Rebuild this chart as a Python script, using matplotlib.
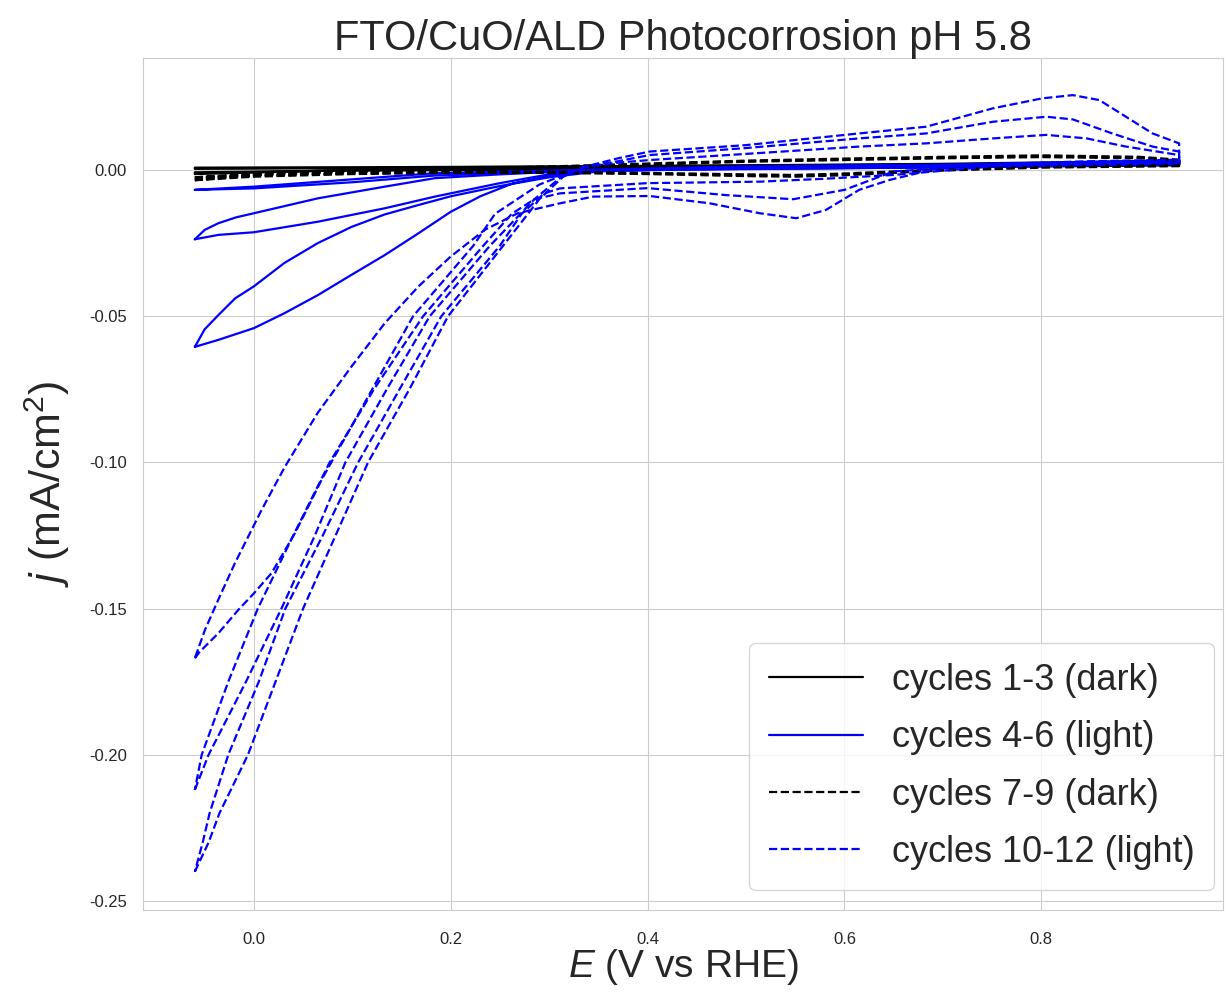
import matplotlib
matplotlib.use('Agg')
import matplotlib.pyplot as plt
import seaborn as sns

# --- cycles 1-3, dark (solid black) ---
cyc1_E = [-0.06, 0.1, 0.3, 0.5, 0.7, 0.94, 0.94, 0.7, 0.5, 0.3, 0.1, -0.06]
cyc1_j = [0.0004, 0.0006, 0.0009, 0.0013, 0.0017, 0.0026, 0.0016, 0.0009, 0.0004, 0.0001, -0.0002, -0.0008]
cyc2_E = [-0.06, 0.1, 0.3, 0.5, 0.7, 0.94, 0.94, 0.7, 0.5, 0.3, 0.1, -0.06]
cyc2_j = [0.0006, 0.0008, 0.0011, 0.0015, 0.0019, 0.0029, 0.0018, 0.0011, 0.0006, 0.0002, -0.0001, -0.0011]
cyc3_E = [-0.06, 0.1, 0.3, 0.5, 0.7, 0.94, 0.94, 0.7, 0.5, 0.3, 0.1, -0.06]
cyc3_j = [0.0008, 0.0009, 0.0012, 0.0016, 0.0021, 0.0032, 0.0020, 0.0012, 0.0007, 0.0003, 0.0000, -0.0014]

# --- cycles 4-6, light (solid blue) ---
cyc4_E = [-0.06, -0.05, -0.036, -0.019, 0.0, 0.031, 0.065, 0.099, 0.133, 0.167, 0.2, 0.25, 0.3, 0.35,
          0.5, 0.7, 0.94, 0.94, 0.7, 0.5, 0.35, 0.3, 0.263, 0.23, 0.2, 0.167, 0.133, 0.099, 0.065,
          0.031, 0.0, -0.036, -0.05, -0.06]
cyc4_j = [-0.0605, -0.0545, -0.0496, -0.0439, -0.0398, -0.0318, -0.0250, -0.0195, -0.0152, -0.0120,
          -0.0090, -0.0055, -0.0025, -0.0005, 0.0010, 0.0016, 0.0030, 0.0020, 0.0009, 0.0003, 0.0000,
          -0.0020, -0.0046, -0.0090, -0.0143, -0.0217, -0.0291, -0.0359, -0.0428, -0.0490, -0.0541,
          -0.0581, -0.0595, -0.0605]
cyc5_E = [-0.06, -0.05, -0.036, -0.018, 0.0, 0.065, 0.133, 0.184, 0.25, 0.3, 0.35, 0.5, 0.7, 0.94,
          0.94, 0.7, 0.5, 0.35, 0.3, 0.25, 0.184, 0.133, 0.065, 0.0, -0.036, -0.06]
cyc5_j = [-0.0237, -0.0205, -0.0182, -0.0162, -0.0148, -0.0097, -0.0057, -0.0028, -0.0015, -0.0007,
          0.0000, 0.0011, 0.0017, 0.0031, 0.0021, 0.0010, 0.0004, -0.0003, -0.0015, -0.0045, -0.0091,
          -0.0131, -0.0177, -0.0213, -0.0222, -0.0237]
cyc6_E = [-0.06, 0.0, 0.1, 0.184, 0.3, 0.35, 0.5, 0.7, 0.94, 0.94, 0.7, 0.5, 0.35, 0.3, 0.184, 0.1, 0.0, -0.06]
cyc6_j = [-0.0068, -0.0057, -0.0032, -0.0011, -0.0002, 0.0001, 0.0012, 0.0018, 0.0033, 0.0022, 0.0011,
          0.0005, -0.0002, -0.0007, -0.0019, -0.0042, -0.0063, -0.0068]

# --- cycles 7-9, dark (dashed black) ---
cyc7_E = [-0.06, 0.0, 0.1, 0.2, 0.3, 0.4, 0.5, 0.6, 0.7, 0.8, 0.9, 0.94,
          0.94, 0.8, 0.7, 0.6, 0.55, 0.5, 0.4, 0.3, 0.2, 0.1, 0.0, -0.06]
cyc7_j = [-0.0030, -0.0015, -0.0005, 0.0003, 0.0010, 0.0020, 0.0030, 0.0036, 0.0042, 0.0047, 0.0042, 0.0032,
          0.0015, 0.0010, 0.0000, -0.0015, -0.0020, -0.0018, -0.0012, -0.0008, -0.0008, -0.0012, -0.0020, -0.0030]
cyc8_E = [-0.06, 0.0, 0.1, 0.2, 0.3, 0.4, 0.5, 0.6, 0.7, 0.8, 0.9, 0.94,
          0.94, 0.8, 0.7, 0.6, 0.55, 0.5, 0.4, 0.3, 0.2, 0.1, 0.0, -0.06]
cyc8_j = [-0.0025, -0.0012, -0.0003, 0.0005, 0.0012, 0.0022, 0.0032, 0.0039, 0.0045, 0.0050, 0.0045, 0.0035,
          0.0018, 0.0012, 0.0002, -0.0012, -0.0017, -0.0015, -0.0010, -0.0006, -0.0006, -0.0010, -0.0017, -0.0025]
cyc9_E = [-0.06, 0.0, 0.1, 0.2, 0.3, 0.4, 0.5, 0.6, 0.7, 0.8, 0.9, 0.94,
          0.94, 0.8, 0.7, 0.6, 0.55, 0.5, 0.4, 0.3, 0.2, 0.1, 0.0, -0.06]
cyc9_j = [-0.0035, -0.0018, -0.0007, 0.0002, 0.0009, 0.0018, 0.0028, 0.0034, 0.0040, 0.0044, 0.0040, 0.0030,
          0.0013, 0.0008, -0.0002, -0.0018, -0.0023, -0.0021, -0.0014, -0.0010, -0.0010, -0.0014, -0.0023, -0.0035]

# --- cycles 10-12, light (dashed blue) ---
cyc10_E = [-0.06, -0.046, -0.035, -0.006, 0.022, 0.050, 0.083, 0.116, 0.158, 0.1973, 0.253, 0.29, 0.315,
           0.335, 0.37, 0.402, 0.5, 0.615, 0.683, 0.751, 0.805, 0.846, 0.886, 0.94, 0.94, 0.85, 0.75, 0.65,
           0.58, 0.514, 0.4, 0.311, 0.295, 0.272, 0.2497, 0.1905, 0.148, 0.106, 0.070, 0.032, 0.005,
           -0.026, -0.045, -0.052, -0.06]
cyc10_j = [-0.240, -0.230, -0.220, -0.200, -0.175, -0.150, -0.125, -0.100, -0.075, -0.050, -0.026, -0.010,
           -0.002, 0.001, 0.0025, 0.0034, 0.0055, 0.0080, 0.0091, 0.0108, 0.0120, 0.0108, 0.0080, 0.0051,
           0.0022, 0.0018, 0.0012, -0.0017, -0.0030, -0.0040, -0.0045, -0.0063, -0.0080, -0.0150, -0.026,
           -0.050, -0.075, -0.100, -0.125, -0.150, -0.175, -0.200, -0.220, -0.230, -0.240]
cyc11_E = [-0.06, -0.046, -0.008, 0.028, 0.062, 0.093, 0.135, 0.1787, 0.2396, 0.285, 0.31, 0.335, 0.37,
           0.402, 0.5, 0.615, 0.683, 0.751, 0.805, 0.832, 0.872, 0.913, 0.94, 0.94, 0.85, 0.75, 0.65, 0.60,
           0.548, 0.48, 0.4, 0.311, 0.285, 0.262, 0.2328, 0.172, 0.122, 0.077, 0.040, 0.004, -0.026,
           -0.053, -0.06]
cyc11_j = [-0.212, -0.200, -0.175, -0.150, -0.125, -0.100, -0.075, -0.050, -0.026, -0.010, -0.003, 0.001,
           0.003, 0.0051, 0.0075, 0.0108, 0.0125, 0.0165, 0.0182, 0.0173, 0.0125, 0.0080, 0.0063, 0.0028,
           0.0024, 0.0016, -0.0005, -0.0068, -0.0100, -0.0086, -0.0062, -0.0080, -0.0100, -0.0150, -0.026,
           -0.050, -0.075, -0.100, -0.125, -0.150, -0.175, -0.200, -0.212]
cyc12_E = [-0.06, -0.0548, -0.0362, -0.0159, 0.0, 0.0179, 0.0416, 0.0586, 0.0687, 0.1618, 0.2227, 0.245,
           0.29, 0.335, 0.37, 0.402, 0.5, 0.615, 0.683, 0.751, 0.801, 0.832, 0.859, 0.886, 0.913, 0.94,
           0.94, 0.85, 0.75, 0.70, 0.646, 0.615, 0.581, 0.551, 0.514, 0.463, 0.402, 0.345, 0.311, 0.268,
           0.2345, 0.2, 0.167, 0.133, 0.099, 0.065, 0.0315, 0.0078, -0.0193, -0.0362, -0.0497, -0.06]
cyc12_j = [-0.167, -0.1647, -0.1585, -0.1505, -0.1448, -0.1379, -0.1243, -0.1129, -0.106, -0.050, -0.026,
           -0.015, -0.005, 0.001, 0.004, 0.0063, 0.0085, 0.0125, 0.0148, 0.0211, 0.0245, 0.0256, 0.0239,
           0.0182, 0.0125, 0.0091, 0.0035, 0.0030, 0.0020, 0.0010, -0.0034, -0.0068, -0.0137, -0.0165,
           -0.0148, -0.0114, -0.0089, -0.0091, -0.0114, -0.0148, -0.0205, -0.0296, -0.0399, -0.0524,
           -0.0673, -0.083, -0.1015, -0.1163, -0.1345, -0.147, -0.1573, -0.167]

dark_solid = [(cyc1_E, cyc1_j), (cyc2_E, cyc2_j), (cyc3_E, cyc3_j)]
light_solid = [(cyc4_E, cyc4_j), (cyc5_E, cyc5_j), (cyc6_E, cyc6_j)]
dark_dashed = [(cyc7_E, cyc7_j), (cyc8_E, cyc8_j), (cyc9_E, cyc9_j)]
light_dashed = [(cyc10_E, cyc10_j), (cyc11_E, cyc11_j), (cyc12_E, cyc12_j)]

sns.set_style('whitegrid')
plt.rcParams['font.family'] = ['Liberation Sans', 'DejaVu Sans']
plt.rcParams['mathtext.fontset'] = 'custom'
plt.rcParams['mathtext.rm'] = 'Liberation Sans'
plt.rcParams['mathtext.it'] = 'Liberation Sans:italic'

fig = plt.figure(figsize=(12.25, 9.93), dpi=100)
ax = fig.add_axes([0.1167, 0.0836, 0.882, 0.858])

groups = [
    (dark_solid, 'black', '-', 'cycles 1-3 (dark)'),
    (light_solid, 'blue', '-', 'cycles 4-6 (light)'),
    (dark_dashed, 'black', '--', 'cycles 7-9 (dark)'),
    (light_dashed, 'blue', '--', 'cycles 10-12 (light)'),
]
for cycles, color, ls, label in groups:
    for i, (E, j) in enumerate(cycles):
        ax.plot(E, j, color=color, linestyle=ls, linewidth=1.6,
                label=label if i == 0 else None)

ax.set_xlim(-0.1127, 0.985)
ax.set_ylim(-0.2531, 0.0383)
ax.set_yticks([0.0, -0.05, -0.10, -0.15, -0.20, -0.25])
ax.yaxis.set_major_formatter(matplotlib.ticker.FormatStrFormatter('%.2f'))
ax.tick_params(axis='x', labelsize=12, pad=12, colors='.15')
ax.tick_params(axis='y', labelsize=12, pad=8, colors='.15')

ax.set_title('FTO/CuO/ALD Photocorrosion pH 5.8', fontsize=30, pad=6)
ax.set_xlabel('$E$ (V vs RHE)', fontsize=28, va='top')
ax.xaxis.set_label_coords(0.5, -0.044)
ax.set_ylabel('$j$ (mA/cm$^2$)', fontsize=31, labelpad=12)

leg = ax.legend(loc='lower right', bbox_to_anchor=(1 - 9 / 1080, 20 / 852), borderaxespad=0,
                fontsize=26, handlelength=2.6, handletextpad=0.8,
                labelspacing=0.62, borderpad=0.55, frameon=True)
leg.get_frame().set_edgecolor('#cccccc')
for line in leg.get_lines():
    line.set_linewidth(1.6)

plt.savefig('out.png', dpi=100)
